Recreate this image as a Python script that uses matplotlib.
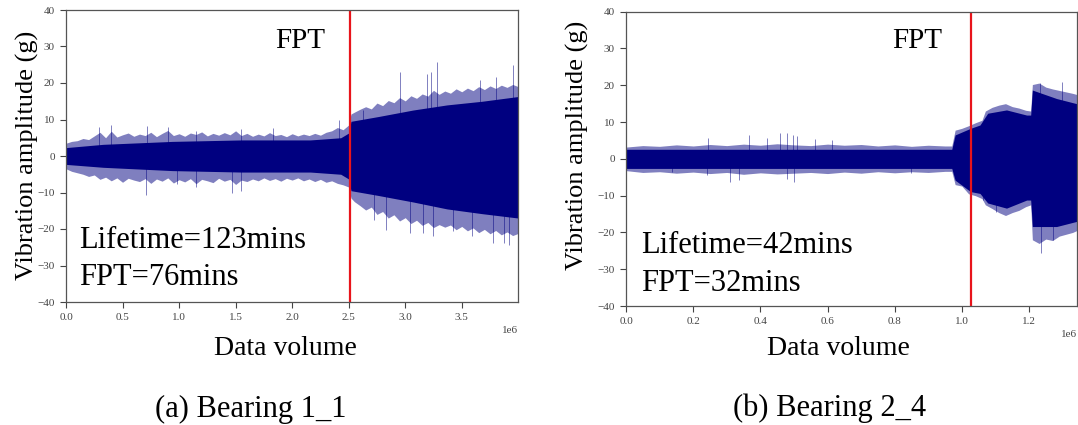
import matplotlib
matplotlib.use("Agg")
import matplotlib.pyplot as plt
import numpy as np

plt.rcParams['font.family'] = ['Liberation Serif', 'DejaVu Serif']

# ---- Bearing 1_1 (data volume in units of 1e6, amplitude in g) ----
# dark core of the signal
b11_x = [0, 0.33, 0.94, 1.55, 2.16, 2.43, 2.50, 2.52, 2.76, 3.07, 3.37, 3.68, 4.0]
b11_core_hi = [2.3, 3.2, 4.0, 4.4, 4.4, 5.0, 6.3, 9.5, 10.8, 12.6, 14.0, 15.0, 16.3]
b11_core_lo = [-2.3, -3.1, -4.0, -4.4, -4.4, -5.0, -6.3, -9.5, -10.8, -12.6, -14.5, -15.8, -17.0]
# hairy outer edge, read every 0.05e6
b11_edge_x = [0.00, 0.05, 0.10, 0.15, 0.20, 0.25, 0.30, 0.35, 0.40, 0.45,
              0.50, 0.55, 0.60, 0.65, 0.70, 0.75, 0.80, 0.85, 0.90, 0.95,
              1.00, 1.05, 1.10, 1.15, 1.20, 1.25, 1.30, 1.35, 1.40, 1.45,
              1.50, 1.55, 1.60, 1.65, 1.70, 1.75, 1.80, 1.85, 1.90, 1.95,
              2.00, 2.05, 2.10, 2.15, 2.20, 2.25, 2.30, 2.35, 2.40, 2.45, 2.50,
              2.52, 2.55, 2.60, 2.65, 2.70, 2.75, 2.80, 2.85, 2.90, 2.95,
              3.00, 3.05, 3.10, 3.15, 3.20, 3.25, 3.30, 3.35, 3.40, 3.45,
              3.50, 3.55, 3.60, 3.65, 3.70, 3.75, 3.80, 3.85, 3.90, 3.95, 4.00]
b11_edge_hi = [3.5, 4.0, 4.2, 4.8, 4.5, 5.5, 6.5, 5.0, 6.8, 5.2,
               5.8, 6.3, 5.4, 6.0, 5.6, 6.5, 5.3, 6.2, 7.0, 5.6,
               6.1, 5.4, 6.3, 5.9, 6.6, 5.5, 6.2, 5.7, 6.4, 5.8,
               6.9, 5.6, 6.2, 5.4, 6.0, 5.5, 6.4, 5.6, 5.9, 5.3,
               6.1, 5.5, 6.0, 5.6, 6.2, 5.7, 6.5, 6.9, 7.8, 7.2, 8.5,
               11.5, 12.0, 12.8, 13.5, 12.9, 14.5, 13.8, 15.2, 14.6, 16.0,
               15.1, 16.5, 15.8, 17.0, 16.4, 18.0, 16.9, 17.8, 17.2, 18.4,
               17.6, 18.6, 17.9, 19.0, 18.2, 19.2, 18.5, 19.4, 18.8, 19.6, 19.0]
b11_edge_lo = [-3.5, -4.2, -4.6, -5.0, -5.6, -5.2, -6.4, -5.8, -6.8, -6.0,
               -7.2, -6.1, -6.6, -7.0, -6.2, -7.5, -6.3, -6.9, -6.0, -7.4,
               -6.5, -7.1, -6.2, -7.6, -6.4, -6.8, -7.3, -6.1, -6.9, -6.4,
               -7.8, -6.6, -7.0, -6.3, -6.8, -6.0, -6.7, -6.2, -6.9, -6.1,
               -6.6, -6.0, -6.8, -6.3, -7.0, -6.4, -7.2, -6.8, -7.5, -7.9, -8.5,
               -11.5, -12.5, -13.6, -14.8, -14.0, -16.0, -15.2, -17.0, -16.1, -17.8,
               -16.9, -18.5, -17.6, -19.0, -18.2, -19.6, -18.8, -19.5, -18.9, -20.2,
               -19.3, -20.5, -19.7, -21.0, -20.1, -21.3, -20.4, -21.6, -20.8, -21.8, -21.2]
# isolated spikes
b11_peak_x = [0.29, 0.40, 0.72, 0.90, 1.15, 1.55, 1.83, 2.41, 2.63,
              2.95, 3.19, 3.23, 3.28, 3.66, 3.80, 3.95]
b11_peak_y = [8.0, 8.5, 8.1, 8.0, 6.8, 7.3, 7.7, 9.9, 12.6, 23.1, 22.6, 23.0, 25.8, 20.8, 21.7, 24.8]
b11_dip_x = [0.71, 0.98, 1.15, 1.47, 1.55, 2.72, 2.83, 3.04, 3.16,
             3.25, 3.42, 3.59, 3.78, 3.87, 3.92]
b11_dip_y = [-10.7, -7.6, -8.5, -10.0, -9.6, -17.5, -20.3, -21.0, -21.2, -22.0, -20.6, -22.0, -23.9, -23.8, -24.4]
b11_fpt = 2.51

# ---- Bearing 2_4 ----
b24_x = [0, 0.97, 0.98, 1.026, 1.054, 1.077, 1.133, 1.193, 1.205, 1.21, 1.282, 1.342]
b24_core_hi = [2.6, 2.6, 6.5, 8.3, 9.2, 12.4, 13.3, 11.9, 11.9, 18.7, 16.4, 15.0]
b24_core_lo = [-2.6, -2.6, -5.8, -8.9, -9.4, -12.0, -13.4, -11.2, -11.2, -18.4, -18.4, -17.0]
b24_edge_x = [0.00, 0.05, 0.10, 0.15, 0.20, 0.25, 0.30, 0.35, 0.40, 0.45,
              0.50, 0.55, 0.60, 0.65, 0.70, 0.75, 0.80, 0.85, 0.90, 0.95,
              0.97, 0.98, 1.00, 1.02, 1.04, 1.06, 1.07, 1.09, 1.11, 1.13,
              1.15, 1.17, 1.19, 1.205, 1.21, 1.23, 1.25, 1.27, 1.29, 1.31, 1.33, 1.342]
b24_edge_hi = [3.2, 3.6, 3.4, 3.8, 3.5, 3.9, 3.6, 4.0, 3.7, 4.1,
               3.8, 3.6, 4.0, 3.7, 3.9, 3.5, 3.8, 3.4, 3.7, 3.5,
               3.5, 7.8, 8.3, 9.0, 9.8, 10.5, 13.0, 14.0, 14.6, 15.0,
               14.2, 13.8, 13.2, 13.0, 20.2, 20.6, 19.5, 19.0, 18.6, 18.2, 17.8, 17.5]
b24_edge_lo = [-3.2, -3.7, -3.5, -3.9, -3.6, -4.0, -3.7, -4.2, -3.8, -4.1,
               -3.9, -3.7, -4.0, -3.6, -3.9, -3.5, -3.8, -3.5, -3.7, -3.4,
               -3.4, -7.0, -7.4, -9.5, -10.0, -10.8, -12.5, -13.5, -14.6, -15.4,
               -14.6, -14.0, -13.0, -12.5, -22.0, -23.0, -21.8, -22.2, -21.0, -20.5, -20.0, -19.5]
b24_peak_x = [0.243, 0.366, 0.419, 0.46, 0.478, 0.496, 0.508, 0.5625, 0.613, 1.232, 1.297]
b24_peak_y = [5.6, 6.5, 5.6, 6.9, 6.9, 6.5, 6.1, 5.3, 5.1, 20.5, 21.0]
b24_dip_x = [0.136, 0.241, 0.31, 0.336, 0.478, 0.50, 0.85, 1.063, 1.103, 1.235, 1.27]
b24_dip_y = [-3.6, -4.5, -6.2, -5.8, -5.4, -6.2, -3.9, -11.2, -14.4, -25.7, -22.0]
b24_fpt = 1.026

W, H = 1078, 425
navy = '#000080'

fig = plt.figure(figsize=(W / 100, H / 100), dpi=100)


def px(x, y):
    return x / W, 1 - y / H


def draw_panel(rect, x, core_hi, core_lo, edge_x, edge_hi, edge_lo, peak_x, peak_y,
               dip_x, dip_y, fpt, xmax, xticks):
    e6 = 1e6
    ax = fig.add_axes(rect)
    ax.fill_between(np.array(edge_x) * e6, edge_lo, edge_hi, color=navy, alpha=0.5, lw=0)
    ax.fill_between(np.array(x) * e6, core_lo, core_hi, color=navy, lw=0)
    ax.vlines(np.array(peak_x) * e6, 0, peak_y, color=navy, lw=0.7, alpha=0.5)
    ax.vlines(np.array(dip_x) * e6, dip_y, 0, color=navy, lw=0.7, alpha=0.5)
    ax.axvline(fpt * e6, color='#e8141b', lw=1.6)
    ax.set_xlim(0, xmax * e6)
    ax.set_ylim(-40, 40)
    ax.set_xticks(np.array(xticks) * e6)
    ax.set_yticks(range(-40, 41, 10))
    ax.tick_params(labelsize=8, colors='#444444', length=4, width=0.8, pad=4)
    ax.xaxis.get_offset_text().set_fontsize(8)
    ax.xaxis.get_offset_text().set_color('#444444')
    for s in ax.spines.values():
        s.set_color('#555555')
        s.set_linewidth(0.9)
    return ax


ax1 = draw_panel([66 / W, 1 - 302 / H, 452.3 / W, 292 / H], b11_x, b11_core_hi, b11_core_lo,
                 b11_edge_x, b11_edge_hi, b11_edge_lo, b11_peak_x, b11_peak_y,
                 b11_dip_x, b11_dip_y, b11_fpt, 4.0, [0, 0.5, 1.0, 1.5, 2.0, 2.5, 3.0, 3.5])
ax2 = draw_panel([626 / W, 1 - 306 / H, 450.7 / W, 294.3 / H], b24_x, b24_core_hi, b24_core_lo,
                 b24_edge_x, b24_edge_hi, b24_edge_lo, b24_peak_x, b24_peak_y,
                 b24_dip_x, b24_dip_y, b24_fpt, 1.342, [0, 0.2, 0.4, 0.6, 0.8, 1.0, 1.2])

ax1.text(2.07e6, 29.5, 'FPT', ha='center', va='baseline', fontsize=21)
ax1.text(0.115e6, -25.3, 'Lifetime=123mins', ha='left', va='baseline', fontsize=22)
ax1.text(0.115e6, -35.3, 'FPT=76mins', ha='left', va='baseline', fontsize=22)

ax2.text(0.868e6, 30, 'FPT', ha='center', va='baseline', fontsize=21)
ax2.text(0.045e6, -25.5, 'Lifetime=42mins', ha='left', va='baseline', fontsize=22)
ax2.text(0.045e6, -35.8, 'FPT=32mins', ha='left', va='baseline', fontsize=22)

fig.text(*px(27.5, 155.8), 'Vibration amplitude (g)', rotation=90, ha='center', va='center', fontsize=19)
fig.text(*px(577.7, 145), 'Vibration amplitude (g)', rotation=90, ha='center', va='center', fontsize=19)
fig.text(*px(285.6, 355), 'Data volume', ha='center', va='baseline', fontsize=20)
fig.text(*px(838, 355), 'Data volume', ha='center', va='baseline', fontsize=20)
fig.text(*px(251, 416.7), '(a) Bearing 1_1', ha='center', va='baseline', fontsize=22)
fig.text(*px(830, 415.7), '(b) Bearing 2_4', ha='center', va='baseline', fontsize=22)

fig.savefig('out.png', dpi=100, facecolor='white')
